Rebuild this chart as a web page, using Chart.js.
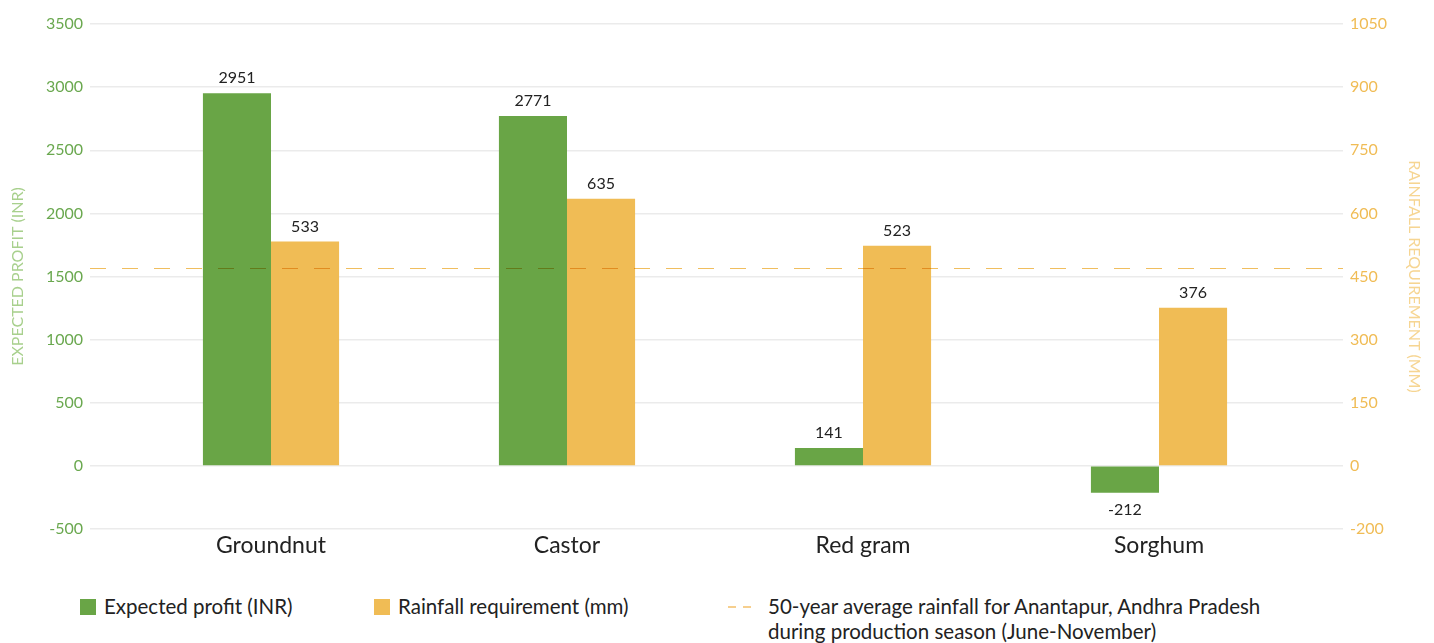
<!DOCTYPE html>
<html>
<head>
<meta charset="utf-8">
<script src="https://cdn.jsdelivr.net/npm/chart.js@4.4.1/dist/chart.umd.min.js"></script>
<style>
  html, body { margin: 0; padding: 0; background: #ffffff; }
  body { width: 1434px; height: 643px; position: relative; overflow: hidden; font-family: Lato, "Open Sans", sans-serif; }
  #wrap { position: absolute; left: 0; top: 0; width: 1434px; height: 580px; }
  .lg { position: absolute; font-size: 20.5px; color: #222; line-height: 25px; white-space: nowrap; }
  .sw { position: absolute; width: 16px; height: 16px; }
  .dash { position: absolute; height: 2px; width: 8px; background: #f6cf8e; }
</style>
</head>
<body>
<div id="wrap"><canvas id="c"></canvas></div>
<div class="sw" style="left:80px; top:599px; background:#69a546;"></div>
<div class="lg" style="left:104px; top:594px;">Expected profit (INR)</div>
<div class="sw" style="left:374px; top:599px; background:#f0bc55;"></div>
<div class="lg" style="left:398px; top:594px;">Rainfall requirement (mm)</div>
<div class="dash" style="left:728px; top:606px;"></div>
<div class="dash" style="left:743px; top:606px;"></div>
<div class="lg" style="left:768px; top:594px;">50-year average rainfall for Anantapur, Andhra Pradesh<br>during production season (June-November)</div>
<script>
const categories = ["Groundnut", "Castor", "Red gram", "Sorghum"];
const expectedProfit = [2951, 2771, 141, -212];
const rainfallRequirement = [533, 635, 523, 376];
const averageRainfall = 470;
const leftTickValues = [-500, 0, 500, 1000, 1500, 2000, 2500, 3000, 3500];
const rightTickValues = [-150, 0, 150, 300, 450, 600, 750, 900, 1050];
const rightTickLabels = ["-200", "0", "150", "300", "450", "600", "750", "900", "1050"];

const FONT = "Lato, 'Open Sans', sans-serif";
const GRID = "#ebebeb";
const LEFT_TICK_LEN = 33;
const RIGHT_TICK_LEN = 36;

const whiteBg = {
  id: "whiteBg",
  beforeDraw(chart) {
    const ctx = chart.ctx;
    ctx.save();
    ctx.fillStyle = "#ffffff";
    ctx.fillRect(0, 0, chart.width, chart.height);
    ctx.restore();
  }
};

const valueLabels = {
  id: "valueLabels",
  afterDatasetsDraw(chart) {
    const ctx = chart.ctx;
    ctx.save();
    ctx.font = "16px " + FONT;
    ctx.fillStyle = "#222";
    ctx.textAlign = "center";
    chart.data.datasets.forEach((ds, di) => {
      const meta = chart.getDatasetMeta(di);
      meta.data.forEach((bar, i) => {
        const v = ds.data[i];
        if (v >= 0) {
          ctx.textBaseline = "bottom";
          ctx.fillText(String(v), bar.x, bar.y - 7);
        } else {
          ctx.textBaseline = "top";
          ctx.fillText(String(v), bar.x, bar.y + 9);
        }
      });
    });
    ctx.restore();
  }
};

const avgLine = {
  id: "avgLine",
  afterDatasetsDraw(chart) {
    const ctx = chart.ctx;
    const y = Math.round(chart.scales.y1.getPixelForValue(averageRainfall)) + 0.5;
    const a = chart.chartArea;
    ctx.save();
    ctx.globalCompositeOperation = "multiply";
    ctx.strokeStyle = "rgb(240,190,95)";
    ctx.lineWidth = 1.2;
    ctx.setLineDash([16, 16]);
    ctx.beginPath();
    ctx.moveTo(a.left - LEFT_TICK_LEN, y);
    ctx.lineTo(a.right + RIGHT_TICK_LEN, y);
    ctx.stroke();
    ctx.restore();
  }
};

new Chart(document.getElementById("c"), {
  type: "bar",
  data: {
    labels: categories,
    datasets: [
      { label: "Expected profit (INR)", data: expectedProfit, backgroundColor: "#69a546", yAxisID: "y",
        categoryPercentage: 0.46, barPercentage: 1.0 },
      { label: "Rainfall requirement (mm)", data: rainfallRequirement, backgroundColor: "#f0bc55", yAxisID: "y1",
        categoryPercentage: 0.46, barPercentage: 1.0 }
    ]
  },
  options: {
    responsive: true,
    maintainAspectRatio: false,
    animation: false,
    layout: { padding: { left: 8, right: 10, top: 24, bottom: 11 } },
    plugins: { legend: { display: false }, tooltip: { enabled: false } },
    scales: {
      x: {
        grid: { display: false },
        border: { display: false },
        ticks: { font: { family: FONT, size: 23 }, color: "#222", padding: -5 },
        afterFit(s) { s.height = 40; }
      },
      y: {
        position: "left",
        min: -500, max: 3500,
        afterBuildTicks(s) { s.ticks = leftTickValues.map(v => ({ value: v })); },
        grid: { color: GRID, tickLength: LEFT_TICK_LEN, tickColor: GRID, lineWidth: 1.4 },
        border: { display: false },
        ticks: { font: { family: FONT, size: 16 }, color: "#6aa84f", padding: 7,
                 callback(v) { return String(v); } },
        title: { display: true, text: "EXPECTED PROFIT (INR)", color: "#a8d08d",
                 font: { family: FONT, size: 16 }, padding: 0 },
        afterFit(s) { s.width = 115; }
      },
      y1: {
        position: "right",
        min: -150, max: 1050,
        afterBuildTicks(s) { s.ticks = rightTickValues.map(v => ({ value: v })); },
        grid: { drawOnChartArea: false, color: GRID, tickLength: RIGHT_TICK_LEN, tickColor: GRID, lineWidth: 1.4 },
        border: { display: false },
        ticks: { font: { family: FONT, size: 16 }, color: "#f0bc55", padding: 7,
                 callback(v) { const i = rightTickValues.indexOf(v); return i >= 0 ? rightTickLabels[i] : String(v); } },
        title: { display: true, text: "RAINFALL REQUIREMENT (MM)", color: "#f6d592",
                 font: { family: FONT, size: 16 }, padding: 0 },
        afterFit(s) { s.width = 117; }
      }
    }
  },
  plugins: [whiteBg, valueLabels, avgLine]
});
</script>
</body>
</html>
